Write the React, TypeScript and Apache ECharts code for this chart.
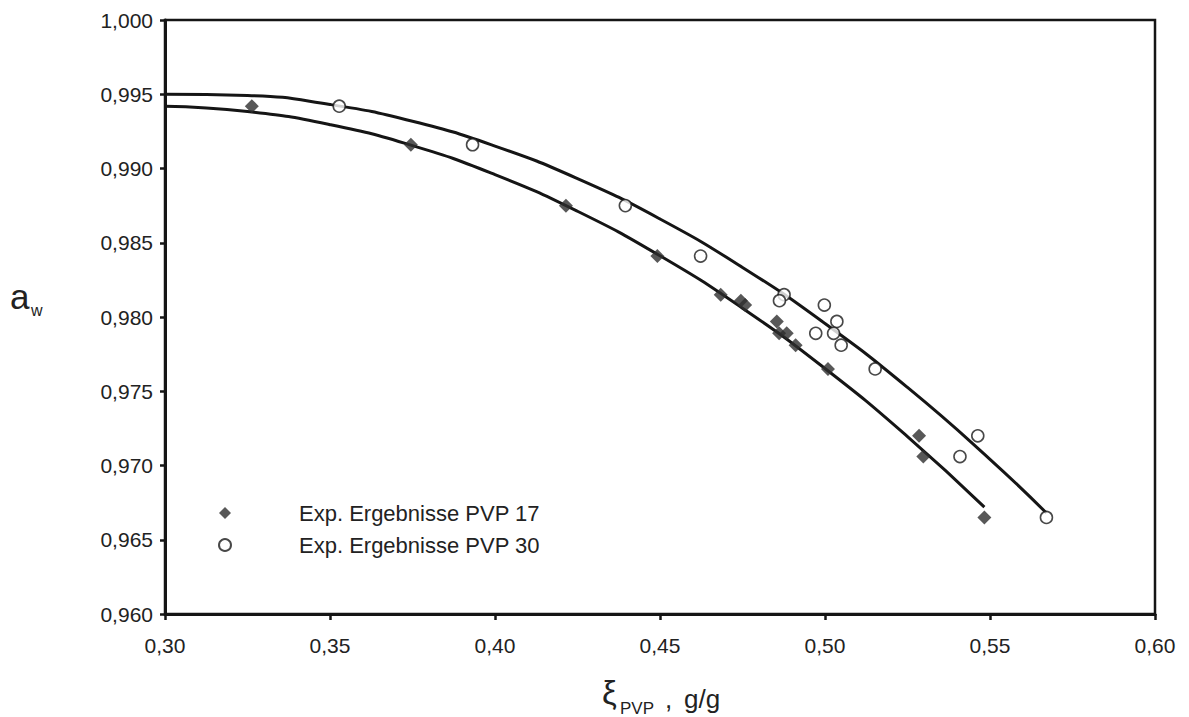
import React, { useEffect, useRef } from "react";
import * as echarts from "echarts";

// Experimental points PVP 17 (xi, a_w)
const xi17 = [0.3263, 0.3745, 0.4215, 0.4492, 0.4684, 0.4745, 0.4758, 0.4854, 0.4861, 0.4884, 0.4911, 0.5009, 0.5285, 0.5298, 0.5483];
const aw17 = [0.9942, 0.9916, 0.9875, 0.9841, 0.9815, 0.9811, 0.9808, 0.9797, 0.9789, 0.9789, 0.9781, 0.9765, 0.9720, 0.9706, 0.9665];

// Experimental points PVP 30 (xi, a_w)
const xi30 = [0.3528, 0.3932, 0.4395, 0.4623, 0.4876, 0.4862, 0.4998, 0.5036, 0.4972, 0.5026, 0.5049, 0.5152, 0.5463, 0.5409, 0.5671];
const aw30 = [0.9942, 0.9916, 0.9875, 0.9841, 0.9815, 0.9811, 0.9808, 0.9797, 0.9789, 0.9789, 0.9781, 0.9765, 0.9720, 0.9706, 0.9665];

// Trend curves
const fitX17 = [0.300, 0.325, 0.350, 0.375, 0.400, 0.425, 0.450, 0.475, 0.500, 0.525, 0.5483];
const fitY17 = [0.9942, 0.99384, 0.99295, 0.99154, 0.98959, 0.98712, 0.98412, 0.98059, 0.97653, 0.97195, 0.9672];
const fitX30 = [0.300, 0.325, 0.350, 0.375, 0.400, 0.425, 0.450, 0.475, 0.500, 0.525, 0.550, 0.5671];
const fitY30 = [0.9950, 0.99492, 0.99431, 0.99318, 0.99151, 0.98932, 0.98660, 0.98334, 0.97956, 0.97526, 0.97042, 0.9668];

const seriesNames = ["Exp. Ergebnisse PVP 17", "Exp. Ergebnisse PVP 30"];

const zip = (xs: number[], ys: number[]) => xs.map((x, i) => [x, ys[i]]);

const FONT = "'Liberation Sans', Arial, sans-serif";
const INK = "#222";
const LINE = "#151515";

export default function App() {
  const ref = useRef<HTMLDivElement>(null);

  useEffect(() => {
    document.body.style.margin = "0";
    const chart = echarts.init(ref.current!, null, { renderer: "svg" });
    chart.setOption({
      animation: false,
      backgroundColor: "#fff",
      grid: {
        left: 165,
        right: 34,
        top: 20,
        bottom: 103,
        show: true,
        borderColor: LINE,
        borderWidth: 2.5,
        backgroundColor: "transparent",
      },
      xAxis: {
        type: "value",
        min: 0.3,
        max: 0.6,
        interval: 0.05,
        splitLine: { show: false },
        axisLine: { lineStyle: { color: LINE, width: 3 } },
        axisTick: { length: 6, lineStyle: { color: LINE, width: 2.5 } },
        axisLabel: {
          color: INK,
          fontSize: 21,
          fontFamily: FONT,
          margin: 21,
          formatter: (v: number) => v.toFixed(2).replace(".", ","),
        },
      },
      yAxis: {
        type: "value",
        min: 0.96,
        max: 1.0,
        interval: 0.005,
        splitLine: { show: false },
        axisLine: { lineStyle: { color: LINE, width: 3 } },
        axisTick: { length: 5, lineStyle: { color: LINE, width: 2.5 } },
        axisLabel: {
          color: INK,
          fontSize: 21,
          fontFamily: FONT,
          margin: 12,
          formatter: (v: number) => v.toFixed(3).replace(".", ","),
        },
      },
      legend: {
        data: seriesNames,
        orient: "vertical",
        left: 213,
        top: 497,
        itemWidth: 12,
        itemHeight: 12,
        itemGap: 10,
        textStyle: {
          color: INK,
          fontSize: 22,
          fontFamily: FONT,
          lineHeight: 22,
          padding: [0, 0, 0, 63],
        },
      },
      graphic: [
        { type: "text", left: 10, top: 279, style: { text: "a", fontSize: 35, fontFamily: FONT, fill: INK } },
        { type: "text", left: 31, top: 302, style: { text: "w", fontSize: 16, fontFamily: FONT, fill: INK } },
        { type: "text", left: 602, top: 676, style: { text: "ξ", fontSize: 33, fontFamily: FONT, fill: INK } },
        { type: "text", left: 620, top: 700, style: { text: "PVP", fontSize: 17, fontFamily: FONT, fill: INK } },
        { type: "text", left: 665, top: 686, style: { text: ",", fontSize: 26, fontFamily: FONT, fill: INK } },
        { type: "text", left: 684, top: 686, style: { text: "g/g", fontSize: 26, fontFamily: FONT, fill: INK } },
      ],
      series: [
        {
          name: "fit17",
          type: "line",
          data: zip(fitX17, fitY17),
          smooth: true,
          symbol: "none",
          lineStyle: { color: LINE, width: 3 },
          z: 2,
        },
        {
          name: "fit30",
          type: "line",
          data: zip(fitX30, fitY30),
          smooth: true,
          symbol: "none",
          lineStyle: { color: LINE, width: 3 },
          z: 2,
        },
        {
          name: seriesNames[0],
          type: "scatter",
          data: zip(xi17, aw17),
          symbol: "diamond",
          symbolSize: 14,
          itemStyle: { color: "#2e2e2e" },
          z: 3,
        },
        {
          name: seriesNames[1],
          type: "scatter",
          data: zip(xi30, aw30),
          symbol: "circle",
          symbolSize: 12,
          itemStyle: { color: "#fff", borderColor: "#1a1a1a", borderWidth: 1.6 },
          z: 3,
        },
      ],
    });
    return () => chart.dispose();
  }, []);

  return (
    <div
      ref={ref}
      style={{ position: "fixed", left: 0, top: 0, width: 1189, height: 717 }}
    />
  );
}
